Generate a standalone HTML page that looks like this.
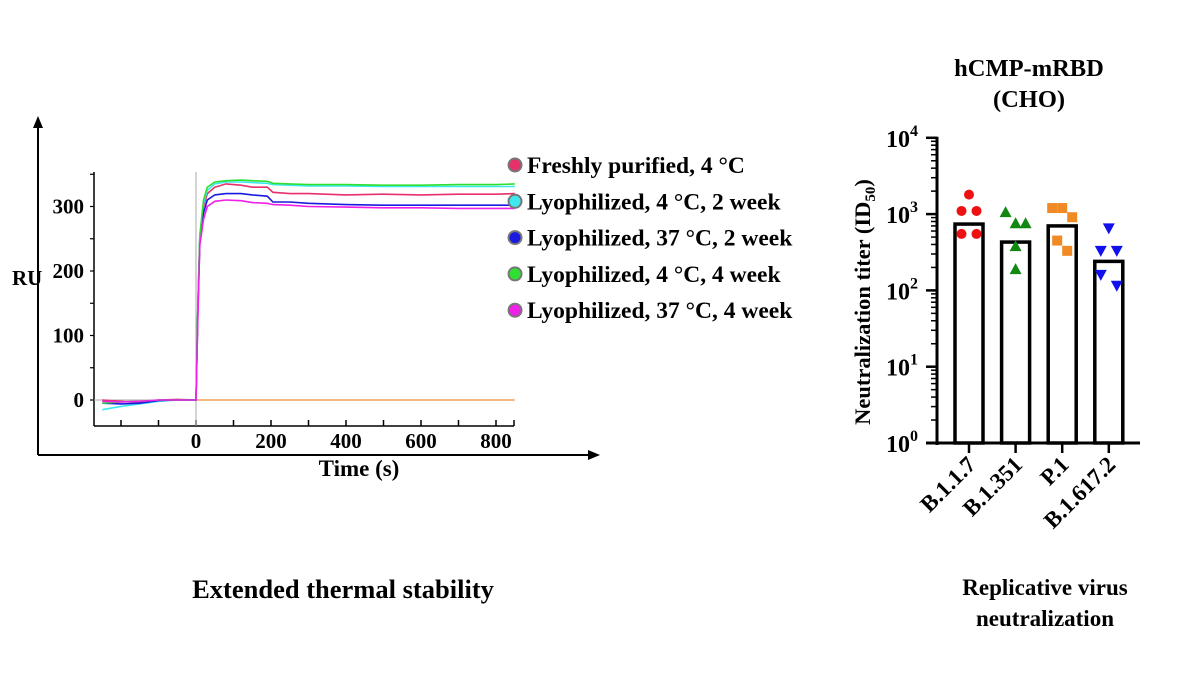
<!DOCTYPE html>
<html><head><meta charset="utf-8"><style>
body{margin:0;background:#fff;}
svg{display:block;font-family:"Liberation Serif","Times New Roman",serif;font-weight:bold;}
</style></head><body>
<svg id="s" width="1200" height="674" viewBox="0 0 1200 674" xmlns="http://www.w3.org/2000/svg"></svg>
<script>
// ---- SPR chart data ----
const sprTimes = [-250,-200,-150,-100,-50,0,5,10,20,30,50,80,120,150,190,205,250,300,400,500,600,700,800,850];
const seriesNames = ["Freshly purified, 4 °C","Lyophilized, 4 °C, 2 week","Lyophilized, 37 °C, 2 week","Lyophilized, 4 °C, 4 week","Lyophilized, 37 °C, 4 week"];
const seriesColors = ["#e8306a","#3ee8ee","#1a1ae0","#30e030","#f020e8"];
const sFresh = [0,-2,-4,0,1,0,150,250,300,320,330,335,333,330,330,322,320,320,318,319,318,319,319,320];
const sCyan4 = [-15,-10,-6,-2,0,0,150,255,305,325,335,338,338,337,336,334,333,332,332,331,331,331,331,331];
const sBlue37 = [-5,-6,-5,-1,0,0,140,245,290,310,318,320,320,318,316,307,307,305,303,302,302,302,302,302];
const sGreen4 = [-5,-3,-2,0,0,0,150,255,310,330,338,340,341,340,339,336,335,334,334,333,333,334,334,335];
const sMag37 = [-2,-3,-2,0,0,0,130,240,280,300,308,310,309,306,305,303,302,300,299,298,298,297,297,297];
const sprSeries = [sFresh,sCyan4,sBlue37,sGreen4,sMag37];
const sprYTicks = [0,100,200,300];
const sprXTicks = [0,200,400,600,800];

// ---- Neutralization chart data ----
const variants = ["B.1.1.7","B.1.351","P.1","B.1.617.2"];
const gmt = [740,430,700,240];
const pts17 = [1800,1100,1100,550,550];
const pts351 = [1060,760,760,380,190];
const ptsP1 = [1200,1200,910,450,330];
const pts617 = [650,330,330,160,115];
const ptOffsets = [[0,-7.5,7.5,-7.5,7.5],[-10,0,10,0,0],[-10,0,10,-5,5],[0,-8,8,-8,8]];
const variantPoints = [pts17,pts351,ptsP1,pts617];
const pointColors = ["#ee1111","#118811","#f08a24","#1111ee"];
const pointShapes = ["circle","tri","square","itri"];
const logTicks = [0,1,2,3,4];

const NS="http://www.w3.org/2000/svg";
const svg=document.getElementById('s');
function mk(tag,attrs,parent){const e=document.createElementNS(NS,tag);for(const k in attrs)e.setAttribute(k,attrs[k]);(parent||svg).appendChild(e);return e;}
function txt(str,attrs,parent){const e=mk('text',attrs,parent);e.textContent=str;return e;}

// SPR axes
const sx=t=>196+t*0.375;
const sy=v=>400-v*0.645;
const g1=mk('g',{});


let e=mk('line',{x1:38,y1:455,x2:38,y2:125,stroke:'#000','stroke-width':2},g1);

mk('path',{d:'M38,116 L33,128 L43,128 Z',fill:'#000'},g1);
e=mk('line',{x1:38,y1:455,x2:592,y2:455,stroke:'#000','stroke-width':2},g1);

mk('path',{d:'M600,455 L588,450 L588,460 Z',fill:'#000'},g1);
e=mk('line',{x1:94,y1:172,x2:94,y2:426,stroke:'#000','stroke-width':1.5},g1);

e=mk('line',{x1:94,y1:426,x2:514,y2:426,stroke:'#000','stroke-width':1.5},g1);

for(let v=0;v<=350;v+=50){mk('line',{x1:90,y1:sy(v),x2:94,y2:sy(v),stroke:'#000','stroke-width':1.2},g1);}
for(let t=-200;t<=800;t+=100){mk('line',{x1:sx(t),y1:426,x2:sx(t),y2:420,stroke:'#000','stroke-width':1.5},g1);}
mk('line',{x1:514,y1:426,x2:514,y2:420,stroke:'#000','stroke-width':1.5},g1);
mk('line',{x1:196,y1:172,x2:196,y2:426,stroke:'#aaa','stroke-width':1},g1);
mk('line',{x1:94,y1:400,x2:514,y2:400,stroke:'#aaa','stroke-width':1},g1);
sprYTicks.forEach(v=>{const t=txt(v,{x:84,y:sy(v)+7,'text-anchor':'end','font-size':21},g1);
});
sprXTicks.forEach(v=>{const t=txt(v,{x:sx(v),y:448,'text-anchor':'middle','font-size':21},g1);
});
e=txt('RU',{x:12,y:285,'font-size':21},g1);
e=txt('Time (s)',{x:359,y:476,'text-anchor':'middle','font-size':23},g1);
e=mk('line',{x1:sx(0),y1:sy(0),x2:sx(850),y2:sy(0),stroke:'#f0a050','stroke-width':1.5},g1);

sprSeries.forEach((s,i)=>{
  const d=s.map((v,j)=>(j?'L':'M')+sx(sprTimes[j]).toFixed(1)+','+sy(v).toFixed(1)).join(' ');
  const p=mk('path',{d:d,fill:'none',stroke:seriesColors[i],'stroke-width':1.6},g1);
  
  
});
seriesNames.forEach((n,i)=>{
  const y=165+i*36.3;
  const c=mk('circle',{cx:515,cy:y,r:6.5,fill:seriesColors[i],stroke:'#777','stroke-width':2},g1);
  
  
  const t=txt(n,{x:527,y:y+8,'font-size':23.5},g1);
  
  
});
e=txt('Extended thermal stability',{x:343,y:598,'text-anchor':'middle','font-size':26.5},g1);


// Neutralization chart
const ny=l=>443-l*76.3;
const nyv=v=>ny(Math.log10(v));
const bx=i=>969+i*46.6;
const g2=mk('g',{});


e=txt('hCMP-mRBD',{x:1029,y:76,'text-anchor':'middle','font-size':24.5},g2);
e=txt('(CHO)',{x:1029,y:107,'text-anchor':'middle','font-size':24.5},g2);
e=mk('line',{x1:937,y1:ny(4)-1,x2:937,y2:445,stroke:'#000','stroke-width':3},g2);
e=mk('line',{x1:926,y1:443,x2:1140,y2:443,stroke:'#000','stroke-width':3},g2);
logTicks.forEach(l=>{
  mk('line',{x1:926,y1:ny(l),x2:937,y2:ny(l),stroke:'#000','stroke-width':2.5},g2);
  if(l<4){for(let m=2;m<=9;m++){const yy=ny(l+Math.log10(m));mk('line',{x1:931,y1:yy,x2:937,y2:yy,stroke:'#000','stroke-width':1.5},g2);}}
  const t=txt('',{x:918,y:ny(l)+9,'text-anchor':'end','font-size':24},g2);
  
  t.textContent='10';
  const sp=document.createElementNS(NS,'tspan');sp.setAttribute('dy','-11');sp.setAttribute('font-size','16');sp.textContent=l;t.appendChild(sp);
});
const yt=txt('',{x:0,y:0,'text-anchor':'middle','font-size':22.5,transform:'translate(870,302) rotate(-90)'},g2);

yt.textContent='Neutralization titer (ID';
const sub=document.createElementNS(NS,'tspan');sub.setAttribute('font-size','15');sub.setAttribute('dy','5');sub.textContent='50';yt.appendChild(sub);
const cl=document.createElementNS(NS,'tspan');cl.setAttribute('dy','-5');cl.textContent=')';yt.appendChild(cl);
variants.forEach((v,i)=>{
  const b=mk('rect',{x:bx(i)-14,y:nyv(gmt[i]),width:28,height:443-nyv(gmt[i]),fill:'#fff',stroke:'#000','stroke-width':3.5},g2);
  
  
  mk('line',{x1:bx(i),y1:443,x2:bx(i),y2:453,stroke:'#000','stroke-width':2.5},g2);
  const t=txt(v,{x:0,y:0,'text-anchor':'end','font-size':23,transform:`translate(${bx(i)+8},466) rotate(-45)`},g2);
  
  variantPoints[i].forEach((val,j)=>{
    const cx=bx(i)+ptOffsets[i][j],cy=nyv(val);let p;
    const sh=pointShapes[i],c=pointColors[i];
    if(sh==='circle')p=mk('circle',{cx:cx,cy:cy,r:5,fill:c},g2);
    else if(sh==='square')p=mk('rect',{x:cx-5,y:cy-5,width:10,height:10,fill:c},g2);
    else if(sh==='tri')p=mk('path',{d:`M${cx},${cy-6} L${cx+6},${cy+5} L${cx-6},${cy+5} Z`,fill:c},g2);
    else p=mk('path',{d:`M${cx},${cy+6} L${cx+6},${cy-5} L${cx-6},${cy-5} Z`,fill:c},g2);
    
    
  });
});
e=txt('Replicative virus',{x:1045,y:595,'text-anchor':'middle','font-size':23},g2);
e=txt('neutralization',{x:1045,y:626,'text-anchor':'middle','font-size':23},g2);
</script>
</body></html>
